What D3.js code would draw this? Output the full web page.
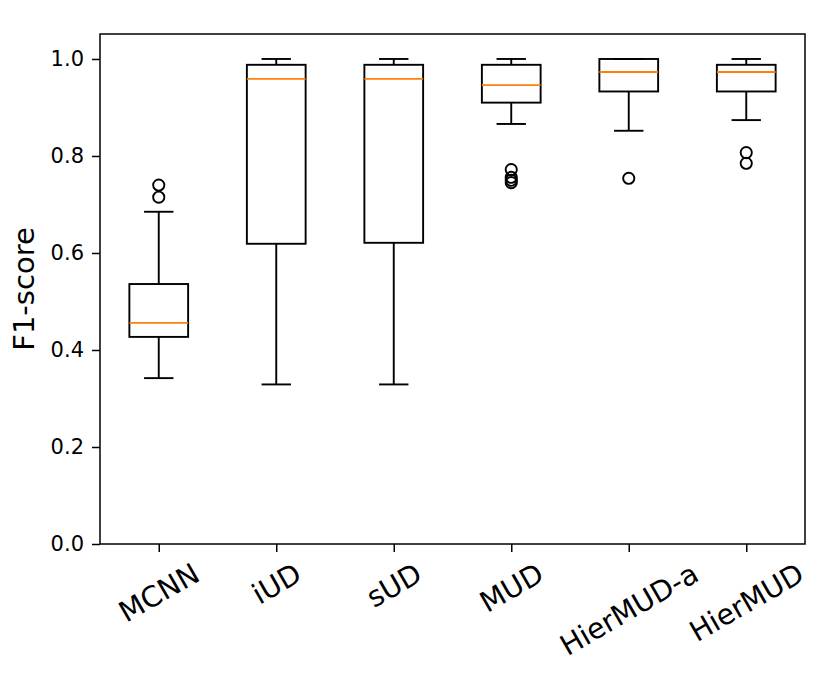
<!DOCTYPE html>
<html><head><meta charset="utf-8">
<script src="https://cdn.jsdelivr.net/npm/d3@7"></script>
<style>body{margin:0;background:#fff}svg{display:block}text{font-family:"DejaVu Sans",sans-serif}</style>
</head><body><div id="c"></div>
<script>
const categories = ["MCNN","iUD","sUD","MUD","HierMUD-a","HierMUD"];
const whiskerLow  = [0.342, 0.329, 0.329, 0.866, 0.852, 0.874];
const q1          = [0.427, 0.619, 0.621, 0.910, 0.933, 0.933];
const medians     = [0.456, 0.959, 0.959, 0.946, 0.973, 0.973];
const q3          = [0.536, 0.988, 0.988, 0.988, 1.000, 0.988];
const whiskerHigh = [0.685, 1.000, 1.000, 1.000, 1.000, 1.000];
const fliers      = [[0.740, 0.715], [], [], [0.772, 0.756, 0.750, 0.745], [0.754], [0.807, 0.785]];
const yTicks = [0.0, 0.2, 0.4, 0.6, 0.8, 1.0];

const W = 830, H = 680;
const m = {left:100, right:25, top:34, bottom:136};
const svg = d3.select("#c").append("svg").attr("width", W).attr("height", H);

const y = d3.scaleLinear().domain([0, 1.0515]).range([H - m.bottom, m.top]);
const x = d3.scaleLinear().domain([0.5, categories.length + 0.5]).range([m.left, W - m.right]);
const step = x(2) - x(1);
const boxW = step * 0.5, capW = boxW * 0.5;
const LW = 1.9;

const g = svg.append("g");
categories.forEach((c, i) => {
  const cx = x(i + 1);
  const gg = g.append("g");
  const line = (x1, y1, x2, y2, col) => gg.append("line").attr("x1", x1).attr("y1", y1).attr("x2", x2).attr("y2", y2)
      .attr("stroke", col || "#000").attr("stroke-width", LW);
  line(cx, y(q1[i]), cx, y(whiskerLow[i]));
  line(cx, y(q3[i]), cx, y(whiskerHigh[i]));
  line(cx - capW/2, y(whiskerLow[i]), cx + capW/2, y(whiskerLow[i]));
  line(cx - capW/2, y(whiskerHigh[i]), cx + capW/2, y(whiskerHigh[i]));
  gg.append("rect").attr("x", cx - boxW/2).attr("y", y(q3[i])).attr("width", boxW)
    .attr("height", y(q1[i]) - y(q3[i])).attr("fill", "none").attr("stroke", "#000").attr("stroke-width", LW);
  line(cx - boxW/2, y(medians[i]), cx + boxW/2, y(medians[i]), "#ff7f0e");
  fliers[i].forEach(v => gg.append("circle").attr("cx", cx).attr("cy", y(v)).attr("r", 5.6)
    .attr("fill", "none").attr("stroke", "#000").attr("stroke-width", LW));
});

const yAxis = d3.axisLeft(y).tickValues(yTicks).tickFormat(d3.format(".1f")).tickSize(8).tickPadding(8);
const ya = svg.append("g").attr("transform", `translate(${m.left},0)`).call(yAxis);
ya.select(".domain").remove();
ya.selectAll("text").attr("font-size", 21).attr("fill", "#000").style("font-family", "DejaVu Sans");
ya.selectAll("line").attr("stroke-width", 1.5);

const xAxis = d3.axisBottom(x).tickValues(d3.range(1, categories.length + 1)).tickFormat(d => categories[d - 1]).tickSize(8);
const xa = svg.append("g").attr("transform", `translate(0,${H - m.bottom})`).call(xAxis);
xa.select(".domain").remove();
xa.selectAll("line").attr("stroke-width", 1.5);
xa.selectAll("text").each(function(d) {
  const t = d3.select(this);
  t.attr("font-size", 28.5).attr("fill", "#000").style("font-family", "DejaVu Sans")
   .attr("dy", null).attr("y", 0).attr("text-anchor", "middle").attr("dominant-baseline", "central");
  const bb = this.getBBox();
  const a = Math.PI / 6;
  const rh = bb.width * Math.sin(a) + bb.height * Math.cos(a);
  const cy = 13 + rh / 2;
  t.attr("x", 0).attr("y", cy).attr("transform", `rotate(-30,0,${cy})`);
});

svg.append("rect").attr("x", m.left).attr("y", m.top).attr("width", W - m.left - m.right)
  .attr("height", H - m.top - m.bottom).attr("fill", "none").attr("stroke", "#000").attr("stroke-width", 1.5);

svg.append("text").attr("transform", `translate(34,${(m.top + H - m.bottom)/2}) rotate(-90)`)
  .attr("text-anchor", "middle").attr("font-size", 29).attr("fill", "#000").text("F1-score");
</script></body></html>
